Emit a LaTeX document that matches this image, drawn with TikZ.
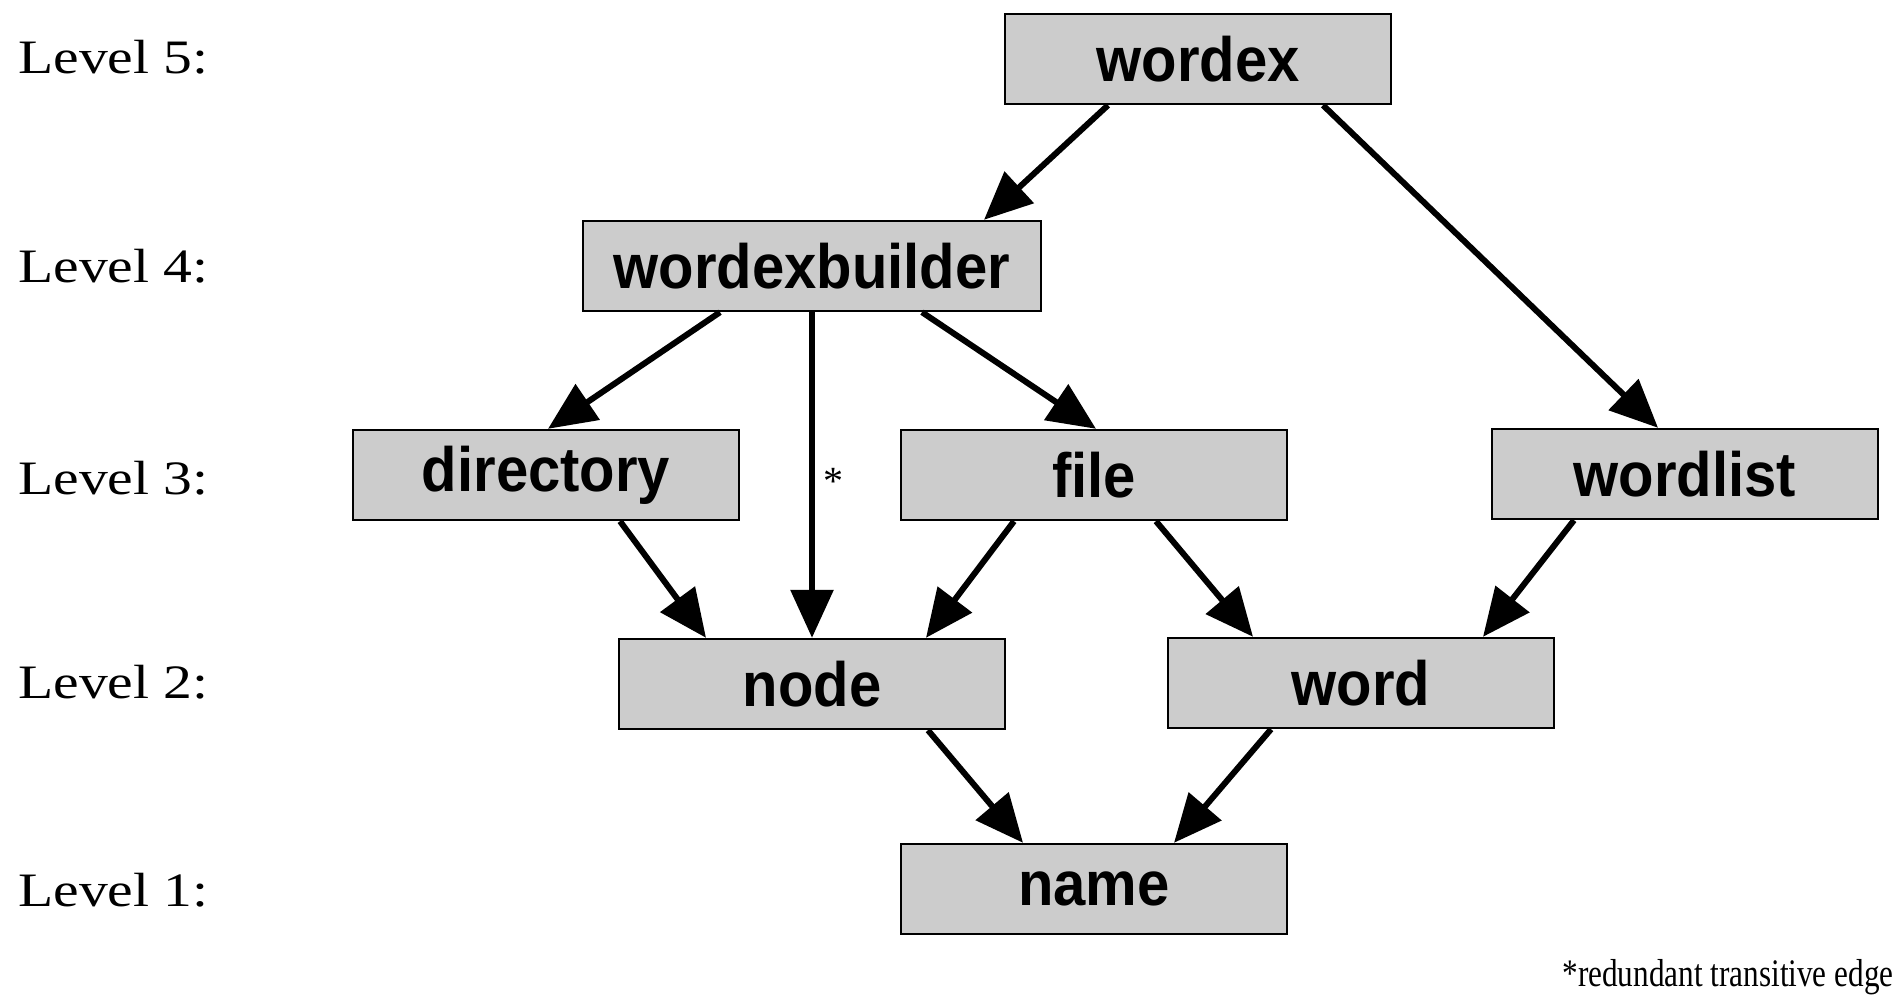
\documentclass[tikz,border=0pt]{standalone}
\usepackage{fontspec}
\setmainfont{Liberation Serif}
\newfontfamily\boxfont{Liberation Sans}
\usetikzlibrary{arrows.meta}
\tikzset{
  modbox/.style={draw=black, line width=1.2pt, fill=black!20, minimum width=193pt, minimum height=45pt,
    inner sep=0pt, font=\boxfont\bfseries\fontsize{29}{32}\selectfont},
  lvl/.style={anchor=west, inner sep=0pt, font=\fontsize{24}{28}\selectfont},
  arr/.style={line width=3pt, -{Triangle[length=24pt,width=21pt]}},
}
\newcommand{\lvltext}[1]{\scalebox{1.2}[1]{#1}}
\newcommand{\boxtext}[1]{\scalebox{1}[1.08]{#1}}
\begin{document}
\begin{tikzpicture}[x=0.5pt,y=-0.5pt]
\useasboundingbox (0,0) rectangle (1898,998);
% level labels
\node[lvl] (l5) at (18,57) {\lvltext{Level 5:}};
\node[lvl] (l4) at (18,266) {\lvltext{Level 4:}};
\node[lvl] (l3) at (18,478) {\lvltext{Level 3:}};
\node[lvl] (l2) at (18,682) {\lvltext{Level 2:}};
\node[lvl] (l1) at (18,890) {\lvltext{Level 1:}};
% boxes
\node[modbox] (wordex) at (1198,59) {\boxtext{wordex}};
\node[modbox, minimum width=229pt] (builder) at (812,266) {\boxtext{wordexbuilder}};
\node[modbox] (directory) at (546,475) {\boxtext{directory}};
\node[modbox] (file) at (1094,475) {\boxtext{file}};
\node[modbox] (wordlist) at (1685,474) {\boxtext{wordlist}};
\node[modbox] (node) at (812,684) {\boxtext{node}};
\node[modbox] (word) at (1361,683) {\boxtext{word}};
\node[modbox] (name) at (1094,889) {\boxtext{name}};
% edges
\draw[arr] ([xshift=-45pt]wordex.south) -- ([xshift=86pt]builder.north);
\draw[arr] ([xshift=62.5pt]wordex.south) -- ([xshift=-13.5pt]wordlist.north);
\draw[arr] ([xshift=-46pt]builder.south) -- ([xshift=1pt]directory.north);
\draw[arr] (builder.south) -- node[pos=0.52, right=4pt, inner sep=0pt, font=\fontsize{20}{22}\selectfont] (star) {*} (node.north);
\draw[arr] ([xshift=55pt]builder.south) -- ([xshift=1pt]file.north);
\draw[arr] ([xshift=37pt]directory.south) -- ([xshift=-53pt]node.north);
\draw[arr] ([xshift=-40pt]file.south) -- ([xshift=57pt]node.north);
\draw[arr] ([xshift=31pt]file.south) -- ([xshift=-54pt]word.north);
\draw[arr] ([xshift=-55.5pt]wordlist.south) -- ([xshift=61pt]word.north);
\draw[arr] ([xshift=58pt]node.south) -- ([xshift=-35.5pt]name.north);
\draw[arr] ([xshift=-45pt]word.south) -- ([xshift=40pt]name.north);
% footnote
\node[inner sep=0pt, font=\fontsize{19.5}{22}\selectfont] (foot) at (1728,977) {\scalebox{0.8}[1]{*redundant transitive edge}};
\end{tikzpicture}
\end{document}
